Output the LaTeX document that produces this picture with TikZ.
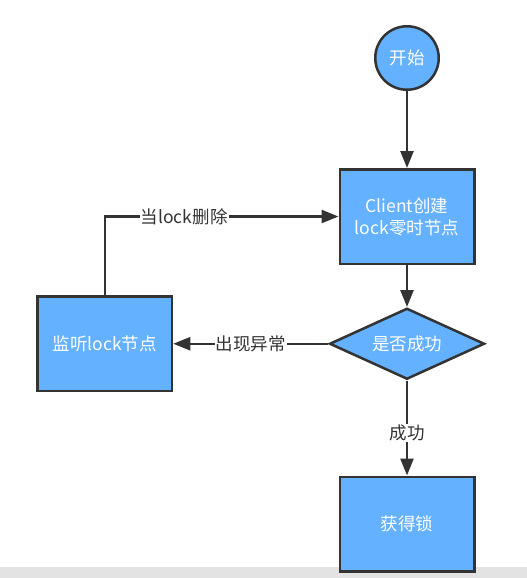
\documentclass[tikz,border=0pt]{standalone}
\usepackage{fontspec}
\setmainfont{Noto Sans CJK SC}
\usetikzlibrary{shapes.geometric,arrows.meta,positioning}
\definecolor{boxblue}{HTML}{63B1FF}
\definecolor{linegray}{HTML}{333333}
\definecolor{bandgray}{HTML}{E3E3E3}

\begin{document}
\begin{tikzpicture}[x=1pt,y=1pt,
  every node/.style={font=\fontsize{17.5}{22}\selectfont},
  startnode/.style={circle,draw=linegray,fill=boxblue,text=white,
                    minimum size=63.5pt,inner sep=0pt,line width=2.5pt},
  procbox/.style={draw=linegray,fill=boxblue,text=white,align=center,
                  minimum width=134.5pt,minimum height=94.5pt,line width=2.5pt},
  decision/.style={diamond,aspect=2.2,draw=linegray,fill=boxblue,text=white,
                   minimum width=155pt,minimum height=71pt,inner sep=0pt,
                   line width=2.5pt},
  arr/.style={-{Triangle[length=17pt,width=13pt]},line width=2.5pt,linegray},
  labl/.style={fill=white,text=linegray,inner sep=1pt}
]
\useasboundingbox (0,0) rectangle (527,-578);
\fill[bandgray] (0,-567) rectangle (527,-578);

% Start
\node[startnode] (start) at (407,-58) {开始};

% Create lock node
\node[procbox,below=77pt of start] (lockbox) {Client创建\\lock零时节点};

% Success check
\node[decision,below=42pt of lockbox] (check) {是否成功};

% Watch lock node
\node[procbox,left=155pt of check] (watch) {监听lock节点};

% Get the lock
\node[procbox,below=95pt of check] (getlock) {获得锁};

% Arrows
\draw[arr] (start) -- (lockbox);
\draw[arr] (lockbox) -- (check);
\draw[arr] (check) -- node[labl]{出现异常} (watch);
\draw[arr] (check) -- node[labl,pos=0.55]{成功} (getlock);
\draw[arr] (watch.north) |- node[labl,pos=0.67]{当lock删除} (lockbox.west);

\end{tikzpicture}
\end{document}
